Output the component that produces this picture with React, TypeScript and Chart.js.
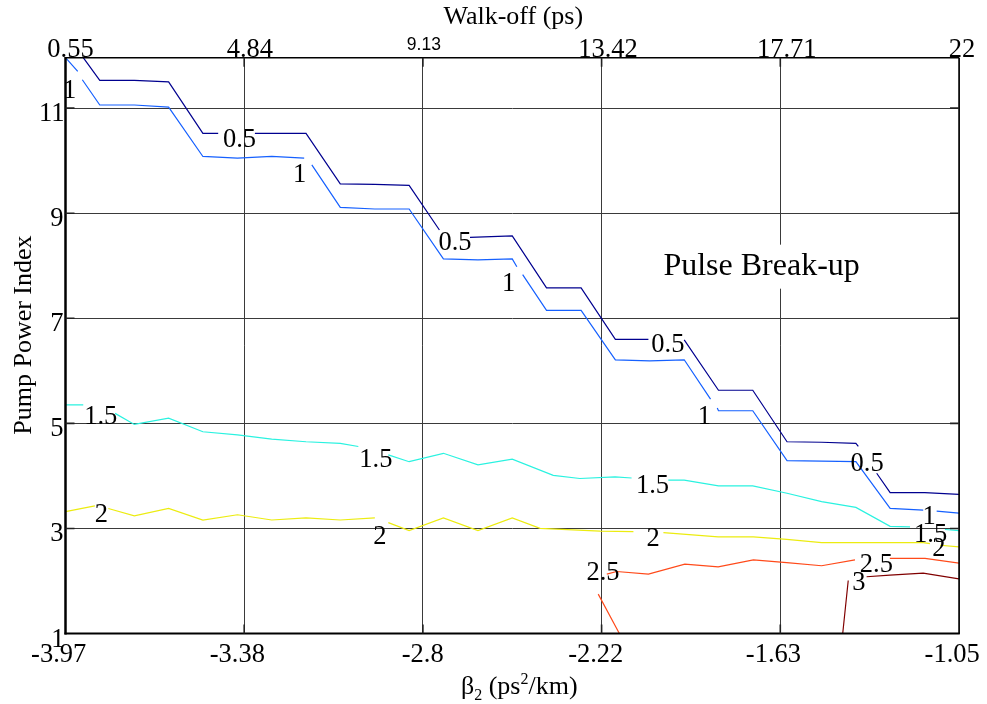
import React, { useEffect, useRef } from "react";
import { Chart, registerables } from "chart.js";

Chart.register(...registerables);

// ---- axes ----
const xTickValues = [-3.97, -3.386, -2.802, -2.218, -1.634, -1.05];
const xTickLabels = ["-3.97", "-3.38", "-2.8", "-2.22", "-1.63", "-1.05"];
const topTickValues = [0.55, 4.84, 9.13, 13.42, 17.71, 22];
const topTickLabels = ["0.55", "4.84", "9.13", "13.42", "17.71", "22"];
const yTickValues = [1, 3, 5, 7, 9, 11];
const yTickLabels = ["1", "3", "5", "7", "9", "11"];

// ---- contour lines (beta2, pump power index); each level split where labels sit ----
const level05Segments = [
  [[-3.912, 11.96], [-3.858, 11.53], [-3.745, 11.53], [-3.633, 11.5], [-3.521, 10.52], [-3.471, 10.52]],
  [[-3.351, 10.52], [-3.184, 10.52], [-3.072, 9.56], [-2.959, 9.55], [-2.847, 9.53], [-2.748, 8.68]],
  [[-2.648, 8.54], [-2.51, 8.57], [-2.398, 7.58], [-2.285, 7.58], [-2.173, 6.6], [-2.065, 6.6]],
  [[-1.948, 6.59], [-1.836, 5.63], [-1.724, 5.63], [-1.612, 4.65], [-1.499, 4.64], [-1.387, 4.62], [-1.379, 4.56]],
  [[-1.319, 4.05], [-1.275, 3.68], [-1.162, 3.68], [-1.05, 3.65]],
];
const level1Segments = [
  [[-3.97, 11.96], [-3.93, 11.7]],
  [[-3.915, 11.54], [-3.858, 11.06], [-3.745, 11.06], [-3.633, 11.02], [-3.521, 10.08], [-3.408, 10.05], [-3.296, 10.08], [-3.19, 10.05]],
  [[-3.165, 9.92], [-3.072, 9.11], [-2.959, 9.08], [-2.847, 9.08], [-2.735, 8.13], [-2.622, 8.11], [-2.51, 8.13], [-2.495, 7.98]],
  [[-2.476, 7.83], [-2.398, 7.15], [-2.285, 7.15], [-2.173, 6.21], [-2.061, 6.19], [-1.948, 6.21], [-1.862, 5.46]],
  [[-1.84, 5.29], [-1.836, 5.24], [-1.724, 5.24], [-1.612, 4.29], [-1.499, 4.28], [-1.387, 4.27], [-1.275, 3.38], [-1.167, 3.35]],
  [[-1.123, 3.33], [-1.05, 3.29]],
];
const level15Segments = [
  [[-3.97, 5.35], [-3.912, 5.35]],
  [[-3.808, 5.19], [-3.745, 4.98], [-3.633, 5.1], [-3.521, 4.84], [-3.408, 4.78], [-3.296, 4.7], [-3.184, 4.65], [-3.072, 4.62], [-3.013, 4.56]],
  [[-2.915, 4.4], [-2.847, 4.27], [-2.735, 4.43], [-2.622, 4.21], [-2.51, 4.32], [-2.376, 4.01], [-2.289, 3.95], [-2.174, 3.98], [-2.12, 3.96]],
  [[-2.0, 3.92], [-1.948, 3.92], [-1.836, 3.81], [-1.724, 3.81], [-1.612, 3.67], [-1.499, 3.51], [-1.387, 3.4], [-1.275, 3.04], [-1.21, 3.03]],
  [[-1.096, 2.98], [-1.05, 2.96]],
];
const level2Segments = [
  [[-3.97, 3.32], [-3.874, 3.43]],
  [[-3.83, 3.38], [-3.745, 3.24], [-3.633, 3.38], [-3.521, 3.16], [-3.408, 3.26], [-3.296, 3.16], [-3.184, 3.2], [-3.072, 3.16], [-2.959, 3.2]],
  [[-2.915, 3.11], [-2.847, 2.96], [-2.735, 3.2], [-2.622, 2.96], [-2.51, 3.2], [-2.419, 3.0], [-2.223, 2.95], [-2.114, 2.94]],
  [[-2.016, 2.92], [-1.837, 2.84], [-1.722, 2.84], [-1.613, 2.79], [-1.499, 2.73], [-1.39, 2.73], [-1.276, 2.73], [-1.167, 2.73], [-1.145, 2.71]],
  [[-1.112, 2.68], [-1.05, 2.65]],
];
const level25Segments = [
  [[-2.16, 1.0], [-2.229, 1.75]],
  [[-2.201, 2.13], [-2.169, 2.18], [-2.065, 2.13], [-1.946, 2.32], [-1.837, 2.27], [-1.722, 2.4], [-1.613, 2.35], [-1.499, 2.29], [-1.39, 2.4]],
  [[-1.276, 2.43], [-1.161, 2.43], [-1.049, 2.34]],
];
const level3Segments = [
  [[-1.43, 1.0], [-1.412, 2.01]],
  [[-1.352, 2.08], [-1.276, 2.11], [-1.167, 2.15], [-1.05, 2.04]],
];

const levelNames = ["0.5", "1", "1.5", "2", "2.5", "3"];
const levelColors = ["#00008F", "#1560FF", "#2AF2E0", "#ECEC10", "#FF4A1A", "#800000"];

// contour labels: text, beta2, pump index
const labelTexts = ["1", "0.5", "1", "0.5", "1", "0.5", "1", "0.5", "1", "1.5", "1.5", "1.5", "1.5", "2", "2", "2", "2", "2.5", "2.5", "3"];
const labelX = [-3.955, -3.4, -3.204, -2.696, -2.521, -2.0, -1.881, -1.349, -1.146, -3.852, -2.953, -2.049, -1.14, -3.853, -2.943, -2.05, -1.116, -2.212, -1.319, -1.376];
const labelY = [11.36, 10.44, 9.76, 8.48, 7.69, 6.53, 5.16, 4.26, 3.26, 5.15, 4.35, 3.84, 2.92, 3.3, 2.87, 2.83, 2.64, 2.19, 2.34, 1.99];

const annotationText = "Pulse Break-up";
const annotationAt = [-2.016, 7.83];

const SERIF = '"Liberation Serif", "Times New Roman", serif';
const SANS = '"Liberation Sans", Arial, sans-serif';

function toData(segments: number[][][]) {
  const out: { x: number; y: number | null }[] = [];
  segments.forEach((seg, k) => {
    if (k > 0) out.push({ x: seg[0][0], y: null });
    seg.forEach((p) => out.push({ x: p[0], y: p[1] }));
  });
  return out;
}

const allLevels = [level05Segments, level1Segments, level15Segments, level2Segments, level25Segments, level3Segments];

function fillInkCentered(ctx: CanvasRenderingContext2D, t: string, cx: number, cy: number) {
  const m = ctx.measureText(t);
  const x = cx - (m.actualBoundingBoxRight - m.actualBoundingBoxLeft) / 2;
  const y = cy + (m.actualBoundingBoxAscent - m.actualBoundingBoxDescent) / 2;
  ctx.fillText(t, x, y);
}

const decorPlugin = {
  id: "decor",
  afterDraw(chart: any) {
    const ctx: CanvasRenderingContext2D = chart.ctx;
    const ca = chart.chartArea;
    const xs = chart.scales.x;
    const x2 = chart.scales.x2;
    const ys = chart.scales.y;
    ctx.save();
    ctx.textAlign = "left";
    ctx.textBaseline = "alphabetic";
    ctx.fillStyle = "#000";

    // annotation with white box
    ctx.font = `32px ${SERIF}`;
    const ax = xs.getPixelForValue(annotationAt[0]);
    const ay = ys.getPixelForValue(annotationAt[1]);
    const am = ctx.measureText(annotationText);
    ctx.fillStyle = "#fff";
    ctx.fillRect(ax - 4, ay - 30, am.actualBoundingBoxRight + am.actualBoundingBoxLeft + 8, 44);
    ctx.fillStyle = "#000";
    ctx.fillText(annotationText, ax + am.actualBoundingBoxLeft, ay);

    // frame
    ctx.strokeStyle = "#000";
    ctx.lineWidth = 1.5;
    ctx.beginPath();
    ctx.moveTo(ca.left, ca.top);
    ctx.lineTo(ca.right, ca.top);
    ctx.moveTo(ca.right, ca.top);
    ctx.lineTo(ca.right, ca.bottom);
    ctx.stroke();
    ctx.lineWidth = 2;
    ctx.beginPath();
    ctx.moveTo(ca.left - 1, ca.bottom);
    ctx.lineTo(ca.right + 0.75, ca.bottom);
    ctx.stroke();
    ctx.lineWidth = 2.5;
    ctx.beginPath();
    ctx.moveTo(ca.left, ca.top - 0.75);
    ctx.lineTo(ca.left, ca.bottom + 1);
    ctx.stroke();

    // inner tick marks
    ctx.lineWidth = 1.6;
    ctx.strokeStyle = "#222";
    ctx.beginPath();
    xTickValues.forEach((v, i) => {
      if (i === 0 || i === xTickValues.length - 1) return;
      const px = xs.getPixelForValue(v);
      ctx.moveTo(px, ca.bottom);
      ctx.lineTo(px, ca.bottom - 9);
      ctx.moveTo(px, ca.top);
      ctx.lineTo(px, ca.top + 9);
    });
    yTickValues.forEach((v, i) => {
      if (i === 0) return;
      const py = ys.getPixelForValue(v);
      ctx.moveTo(ca.left, py);
      ctx.lineTo(ca.left + 9, py);
      ctx.moveTo(ca.right, py);
      ctx.lineTo(ca.right - 9, py);
    });
    ctx.stroke();

    // bottom tick labels (right ink edge just right of the grid line)
    ctx.font = `26.5px ${SERIF}`;
    xTickLabels.forEach((t, i) => {
      const px = xs.getPixelForValue(xTickValues[i]);
      const m = ctx.measureText(t);
      ctx.fillText(t, px + 20.5 - m.actualBoundingBoxRight, ca.bottom + 28);
    });

    // top tick labels
    topTickLabels.forEach((t, i) => {
      const px = x2.getPixelForValue(topTickValues[i]);
      if (t === "9.13") {
        ctx.font = `17.5px ${SANS}`;
        const m = ctx.measureText(t);
        const w = m.actualBoundingBoxRight + m.actualBoundingBoxLeft;
        ctx.fillText(t, px + 0.6 - w / 2 + m.actualBoundingBoxLeft, ca.top - 7.5);
      } else {
        ctx.font = `26.5px ${SERIF}`;
        const m = ctx.measureText(t);
        const w = m.actualBoundingBoxRight + m.actualBoundingBoxLeft;
        ctx.fillText(t, px + 0.12 * w - w / 2 + m.actualBoundingBoxLeft, ca.top - 0.5);
      }
    });

    // left tick labels
    ctx.font = `26.5px ${SERIF}`;
    yTickLabels.forEach((t, i) => {
      const py = ys.getPixelForValue(yTickValues[i]);
      const m = ctx.measureText(t);
      const y = py + 4 + (m.actualBoundingBoxAscent - m.actualBoundingBoxDescent) / 2;
      ctx.fillText(t, ca.left - 2.2 - m.actualBoundingBoxRight, y);
    });

    // contour labels
    ctx.font = `26.5px ${SERIF}`;
    labelTexts.forEach((t, i) => {
      fillInkCentered(ctx, t, xs.getPixelForValue(labelX[i]), ys.getPixelForValue(labelY[i]));
    });

    // top title
    ctx.font = `26px ${SERIF}`;
    {
      const t = "Walk-off (ps)";
      const m = ctx.measureText(t);
      const cx = (ca.left + ca.right) / 2 + 0.7;
      ctx.fillText(t, cx - (m.actualBoundingBoxRight - m.actualBoundingBoxLeft) / 2, ca.top - 34.2);
    }

    // y title
    {
      const t = "Pump Power Index";
      ctx.save();
      ctx.translate(31, (ca.top + ca.bottom) / 2 - 10.5);
      ctx.rotate(-Math.PI / 2);
      ctx.textAlign = "center";
      ctx.fillText(t, 0, 0);
      ctx.restore();
    }

    // x title with sub/superscript
    {
      const parts: [string, number, number][] = [
        ["\u03b2", 26, 0],
        ["2", 16, 6],
        [" (ps", 26, 0],
        ["2", 16, -10],
        ["/km)", 26, 0],
      ];
      let total = 0;
      const widths = parts.map(([t, fs]) => {
        ctx.font = `${fs}px ${SERIF}`;
        const w = ctx.measureText(t).width;
        total += w;
        return w;
      });
      let x = (ca.left + ca.right) / 2 + 7 - total / 2;
      const base = ca.bottom + 60.5;
      parts.forEach(([t, fs, dy], i) => {
        ctx.font = `${fs}px ${SERIF}`;
        ctx.fillText(t, x, base + dy);
        x += widths[i];
      });
    }
    ctx.restore();
  },
};

export default function App() {
  const ref = useRef<HTMLCanvasElement | null>(null);
  useEffect(() => {
    if (!ref.current) return;
    const chart = new Chart(ref.current, {
      type: "line",
      data: {
        datasets: allLevels.map((segs, i) => ({
          label: levelNames[i],
          data: toData(segs) as any,
          borderColor: levelColors[i],
          backgroundColor: levelColors[i],
          borderWidth: 1.2,
          pointRadius: 0,
          fill: false,
          tension: 0,
          spanGaps: false,
        })),
      },
      options: {
        responsive: false,
        animation: false,
        events: [],
        layout: { padding: { left: 65.5, right: 28, top: 57.7, bottom: 70.5 } },
        plugins: { legend: { display: false }, tooltip: { enabled: false } },
        scales: {
          x: {
            type: "linear",
            min: -3.97,
            max: -1.05,
            ticks: { display: false },
            grid: { color: "#3a3a3a", lineWidth: 1, drawTicks: false },
            border: { display: false },
            afterBuildTicks: (axis: any) => {
              axis.ticks = xTickValues.map((v) => ({ value: v }));
            },
          },
          x2: {
            type: "linear",
            position: "top",
            min: 0.55,
            max: 22,
            ticks: { display: false },
            grid: { display: false, drawTicks: false },
            border: { display: false },
          },
          y: {
            type: "linear",
            min: 1,
            max: 11.96,
            ticks: { display: false },
            grid: { color: "#3a3a3a", lineWidth: 1, drawTicks: false },
            border: { display: false },
            afterBuildTicks: (axis: any) => {
              axis.ticks = yTickValues.map((v) => ({ value: v }));
            },
          },
        },
      },
      plugins: [decorPlugin],
    });
    return () => chart.destroy();
  }, []);
  return (
    <div style={{ position: "fixed", left: 0, top: 0, width: 987, height: 704, background: "#fff" }}>
      <canvas ref={ref} width={987} height={704} style={{ width: 987, height: 704, display: "block" }} />
    </div>
  );
}
